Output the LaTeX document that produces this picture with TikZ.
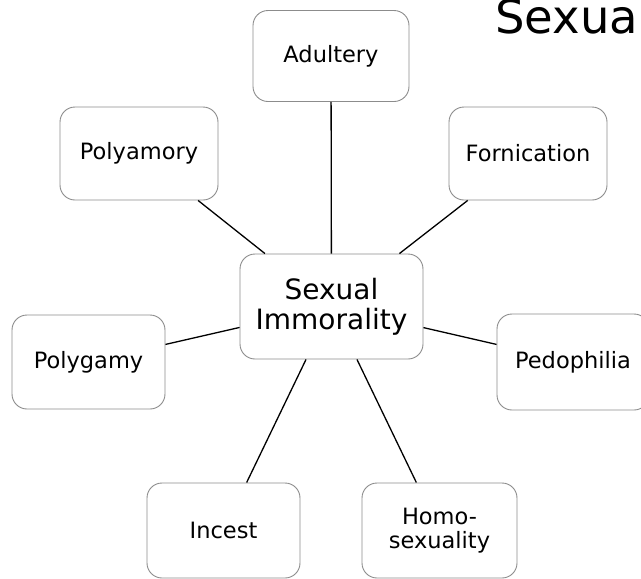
\documentclass[tikz,border=0pt]{standalone}
\usepackage{fontspec}
\setmainfont{DejaVu Sans}
\begin{document}
\begin{tikzpicture}[x=1pt,y=-1pt,
  box/.style={draw=black!45, line width=0.9pt, rounded corners=15pt, fill=white,
    inner sep=0pt, align=center, font=\fontsize{22.5}{24}\selectfont},
  conn/.style={draw=black, line width=1.3pt}]
\useasboundingbox (0,0) rectangle (641,579);
\clip (0,0) rectangle (641,579);
\node[box, minimum width=156pt, minimum height=91pt] (adultery) at (331,56) {Adultery};
\node[box, minimum width=158pt, minimum height=93pt] (polyamory) at (139,153.5) {Polyamory};
\node[box, minimum width=158pt, minimum height=93pt] (fornication) at (528,153.5) {Fornication};
\node[box, minimum width=183pt, minimum height=105pt, font=\fontsize{28}{30}\selectfont] (center) at (331.5,306.5) {Sexual\\Immorality};
\node[box, minimum width=153pt, minimum height=94pt] (polygamy) at (88.5,362) {Polygamy};
\node[box, minimum width=152pt, minimum height=96pt] (pedophilia) at (573,362) {Pedophilia};
\node[box, minimum width=153pt, minimum height=95pt] (incest) at (223.5,530.5) {Incest};
\node[box, minimum width=155pt, minimum height=95pt] (homo) at (439.5,530.5) {Homo-\\sexuality};
\node[anchor=base west, inner sep=0pt, font=\fontsize{46.5}{50}\selectfont] (title) at (495,33) {Sexual Immorality};
\draw[conn] (adultery) -- (center);
\draw[conn] (polyamory) -- (center);
\draw[conn] (fornication) -- (center);
\draw[conn] (polygamy) -- (center);
\draw[conn] (pedophilia) -- (center);
\draw[conn] (incest) -- (center);
\draw[conn] (homo) -- (center);
\end{tikzpicture}
\end{document}
